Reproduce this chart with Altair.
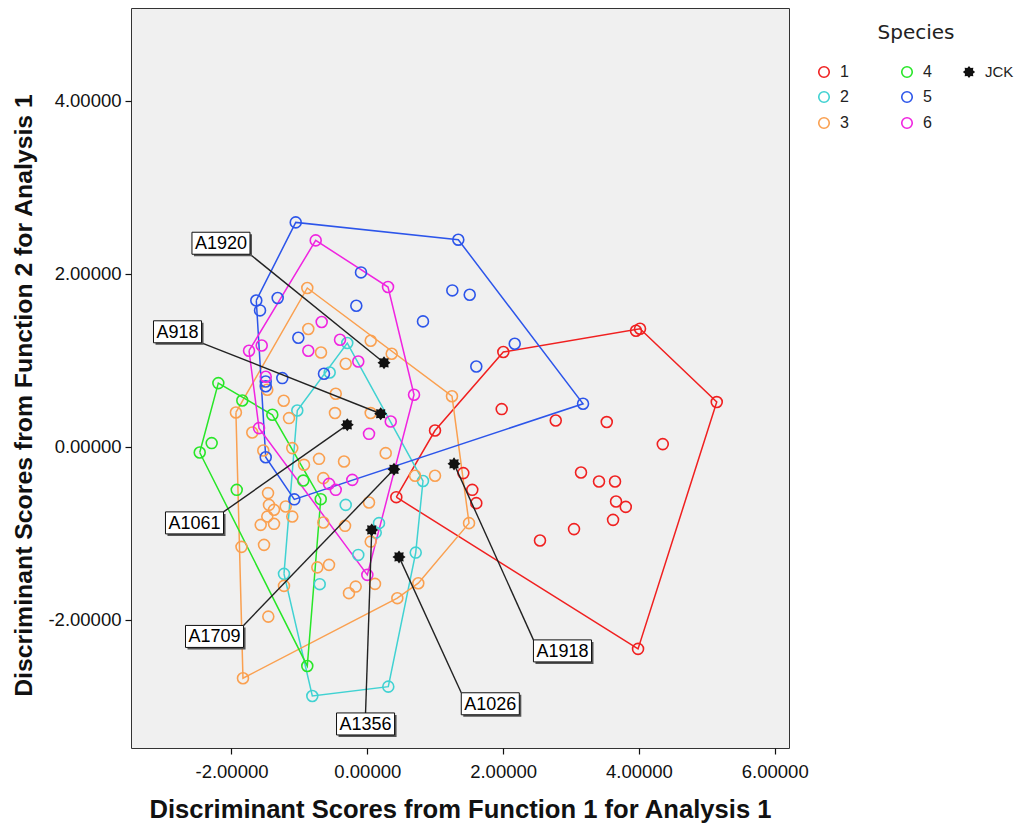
import altair as alt
import pandas as pd
import math

# ---------------- data (discriminant scores: function 1 = x, function 2 = y) -------------
s1_x = [3.957, 4.016, 5.146, 1.979, 2.775, 0.997, 3.526, 4.351, 3.147, 3.412, 3.648, 3.663,
        3.806, 3.619, 3.044, 2.543, 1.414, 1.546, 1.605, 0.427, 3.987, 2.003]
s1_y = [1.341, 1.364, 0.517, 0.436, 0.304, 0.188, 0.286, 0.031, -0.297, -0.401, -0.401, -0.632,
        -0.694, -0.844, -0.951, -1.083, -0.304, -0.497, -0.651, -0.582, -2.335, 1.095]

s2_x = [-0.295, -0.554, -1.031, 0.820, -0.318, -0.133, 0.172, 0.124, 0.713, -1.227, -0.701,
        -0.810, 0.309]
s2_y = [1.199, 0.859, 0.420, -0.395, -0.671, -1.249, -0.882, -0.991, -1.222, -1.468, -1.587,
        -2.879, -2.771]

s3_x = [-0.884, -0.869, -0.682, -0.318, 0.050, 0.359, -0.465, -1.231, -1.473, -1.935, -1.153,
        -0.476, 0.050, -1.694, -1.105, -1.532, -0.711, -0.932, -0.343, 0.271, -0.648, -1.462,
        -1.448, -1.374, -1.202, -1.473, -1.105, -1.570, -1.374, -0.648, -1.853, -1.521, 0.025,
        -0.328, -0.736, -0.564, -1.227, -0.270, -0.171, -1.458, -1.831, 0.113, 0.442, 0.751,
        1.247, 0.703, 0.997, 1.498, 0.050]
s3_y = [1.835, 1.361, 1.090, 0.960, 1.225, 1.075, 0.613, 0.532, 0.659, 0.397, 0.332,
        0.390, 0.390, 0.165, -0.015, -0.043, -0.139, -0.208, -0.170, -0.073, -0.362, -0.535,
        -0.671, -0.728, -0.690, -0.806, -0.806, -0.902, -0.890, -0.875, -1.156, -1.133, -0.644,
        -0.913, -1.393, -1.364, -1.607, -1.691, -1.615, -1.962, -2.674, -1.584, -1.749, -1.576,
        0.584, -0.335, -0.335, -0.882, -1.095]

s4_x = [-2.194, -1.841, -1.399, -2.292, -2.468, -1.923, -0.943, -0.686, -0.884]
s4_y = [0.736, 0.535, 0.370, 0.043, -0.066, -0.497, -0.390, -0.605, -2.532]

s5_x = [-1.054, 1.340, -0.093, 1.252, 1.508, -1.635, -1.580, -1.320, -0.162, 0.820, -1.016,
        -0.638, -1.252, -1.496, -1.496, 2.171, 1.605, 3.177, -1.496, -1.075]
s5_y = [2.593, 2.393, 2.015, 1.807, 1.757, 1.691, 1.576, 1.719, 1.630, 1.449, 1.260,
        0.844, 0.794, 0.755, 0.699, 1.191, 0.928, 0.497, -0.121, -0.607]

s6_x = [-0.760, 0.305, -0.672, -1.555, -1.742, -0.869, -0.402, -0.133, -1.496, 0.345, 0.025,
        0.688, -1.595, -0.564, -0.465, -0.221, 0.000]
s6_y = [2.385, 1.846, 1.442, 1.171, 1.110, 1.110, 1.237, 0.986, 0.809, 0.292, 0.150,
        0.601, 0.216, -0.428, -0.497, -0.382, -1.480]

jck_id = ["A1920", "A918", "A1061", "A1709", "A1918", "A1356", "A1026"]
jck_x = [0.246, 0.197, -0.295, 0.393, 1.277, 0.065, 0.467]
jck_y = [0.971, 0.382, 0.254, -0.260, -0.197, -0.960, -1.272]
lab_x = [-2.155, -2.795, -2.545, -2.250, 2.874, -0.026, 1.811]
lab_y = [2.352, 1.329, -0.879, -2.191, -2.358, -3.202, -2.969]

species = ["1", "2", "3", "4", "5", "6"]
colors = ["#F02020", "#40D2D2", "#FAA050", "#28E628", "#2C55EA", "#F024E0"]
x_ticks = [-2, 0, 2, 4, 6]
y_ticks = [-2, 0, 2, 4]

# ---------------- layout constants -------------
W, H = 658, 740
XD = [-3.48, 6.21]
YD = [-3.48, 5.07]
FONT = "Liberation Sans"
LBL_FS = 18
px_x = W / (XD[1] - XD[0])
px_y = H / (YD[1] - YD[0])
BOX_HH = 11 / px_y
EM = {"A": 0.667}

xs = [s1_x, s2_x, s3_x, s4_x, s5_x, s6_x]
ys = [s1_y, s2_y, s3_y, s4_y, s5_y, s6_y]

pts = pd.DataFrame([{"sp": sp, "x": x, "y": y}
                    for sp, X_, Y_ in zip(species, xs, ys) for x, y in zip(X_, Y_)])


def hull(p):
    p = sorted(set(p))

    def cross(o, a, b):
        return (a[0] - o[0]) * (b[1] - o[1]) - (a[1] - o[1]) * (b[0] - o[0])
    lo, up = [], []
    for q in p:
        while len(lo) >= 2 and cross(lo[-2], lo[-1], q) <= 0:
            lo.pop()
        lo.append(q)
    for q in reversed(p):
        while len(up) >= 2 and cross(up[-2], up[-1], q) <= 0:
            up.pop()
        up.append(q)
    return lo[:-1] + up[:-1]


hrows = []
for sp, X_, Y_ in zip(species, xs, ys):
    h = hull(list(zip(X_, Y_)))
    h = h + [h[0]]
    for i, (a, b) in enumerate(h):
        hrows.append({"sp": sp, "o": i, "x": a, "y": b})
hulls = pd.DataFrame(hrows)

lrows = []
for nm, px, py, lx, ly in zip(jck_id, jck_x, jck_y, lab_x, lab_y):
    em = sum(EM.get(c, 0.556) for c in nm)
    hw = (em * LBL_FS + 6) / 2 / px_x
    best = None
    for dx in (-1, 0, 1):
        for dy in (-1, 0, 1):
            if dx == 0 and dy == 0:
                continue
            ax, ay = lx + dx * hw, ly + dy * BOX_HH
            d = ((ax - px) * px_x) ** 2 + ((ay - py) * px_y) ** 2
            if best is None or d < best[0]:
                best = (d, ax, ay)
    lrows.append({"id": nm, "px": px, "py": py, "lx": lx, "ly": ly,
                  "ax": best[1], "ay": best[2],
                  "x1": lx - hw, "x2": lx + hw,
                  "y1": ly - BOX_HH, "y2": ly + BOX_HH})
labs = pd.DataFrame(lrows)

xs_ = alt.Scale(domain=XD, nice=False, zero=False)
ys_ = alt.Scale(domain=YD, nice=False, zero=False)
cs_ = alt.Scale(domain=species, range=colors)

LBL_EXPR = "replace(format(datum.value, '.5f'), '\u2212', '-')"
X = alt.X("x:Q", scale=xs_, axis=alt.Axis(values=x_ticks, labelExpr=LBL_EXPR,
                                          title="Discriminant Scores from Function 1 for Analysis 1"))
Y = alt.Y("y:Q", scale=ys_, axis=alt.Axis(values=y_ticks, labelExpr=LBL_EXPR, titleY=387,
                                          title="Discriminant Scores from Function 2 for Analysis 1"))

star = []
for i in range(16):
    r = 1.0 if i % 2 == 0 else 0.7
    a = math.pi * i / 8
    star.append(f"{r*math.cos(a):.3f},{r*math.sin(a):.3f}")
STAR = "M" + "L".join(star) + "Z"

hull_layer = alt.Chart(hulls).mark_line(strokeWidth=1.5).encode(
    x=X, y=Y, color=alt.Color("sp:N", scale=cs_, legend=None),
    detail="sp:N", order="o:Q")

pt_layer = alt.Chart(pts).mark_point(filled=False, size=120, strokeWidth=1.6, opacity=1).encode(
    x=X, y=Y, color=alt.Color("sp:N", scale=cs_, legend=None))

lead = alt.Chart(labs).mark_rule(color="#222", strokeWidth=1.4).encode(
    x=alt.X("px:Q", scale=xs_), y=alt.Y("py:Q", scale=ys_), x2="ax:Q", y2="ay:Q")

jck = alt.Chart(labs).mark_point(shape=STAR, filled=True, color="#111", size=170, opacity=1).encode(
    x=alt.X("px:Q", scale=xs_), y=alt.Y("py:Q", scale=ys_))

shadow = alt.Chart(labs).mark_rect(fill="#555", xOffset=2, x2Offset=2, yOffset=2, y2Offset=2).encode(
    x=alt.X("x1:Q", scale=xs_), x2="x2:Q", y=alt.Y("y1:Q", scale=ys_), y2="y2:Q")
box = alt.Chart(labs).mark_rect(fill="white", stroke="#111", strokeWidth=1).encode(
    x=alt.X("x1:Q", scale=xs_), x2="x2:Q", y=alt.Y("y1:Q", scale=ys_), y2="y2:Q")
txt = alt.Chart(labs).mark_text(font=FONT, fontSize=LBL_FS, color="black", baseline="middle", dy=1).encode(
    x=alt.X("lx:Q", scale=xs_), y=alt.Y("ly:Q", scale=ys_), text="id:N")

# ---------------- manual legend (outside plot, right side) -------------
one = alt.Data(values=[{"a": 1}])
leg_layers = [alt.Chart(one).mark_text(text="Species", font="DejaVu Sans", fontSize=20, color="#222",
                                       align="center", baseline="middle").encode(
    x=alt.value(785), y=alt.value(25))]
col_x = [693, 776]
row_y = [64, 89, 115]
for i, sp in enumerate(species):
    cx = col_x[i // 3]
    cy = row_y[i % 3]
    leg_layers.append(alt.Chart(one).mark_point(filled=False, size=110, strokeWidth=1.6,
                                                color=colors[i], opacity=1).encode(
        x=alt.value(cx), y=alt.value(cy)))
    leg_layers.append(alt.Chart(one).mark_text(text=sp, font=FONT, fontSize=16, color="#222",
                                               align="left", baseline="middle").encode(
        x=alt.value(cx + 16), y=alt.value(cy)))
leg_layers.append(alt.Chart(one).mark_point(shape=STAR, filled=True, color="#111", size=150,
                                            opacity=1).encode(x=alt.value(838), y=alt.value(64)))
leg_layers.append(alt.Chart(one).mark_text(text="JCK", font=FONT, fontSize=15, color="#222",
                                           align="left", baseline="middle").encode(
    x=alt.value(854), y=alt.value(64)))

chart = alt.layer(hull_layer, pt_layer, lead, jck, shadow, box, txt, *leg_layers).properties(
    width=W, height=H, padding={"left": 3, "top": 0, "right": 0, "bottom": 0}
).configure_view(
    fill="#F0F0F0", stroke="#333", strokeWidth=1
).configure_axis(
    grid=False, domain=False, tickColor="#111", tickSize=6, tickWidth=1.2,
    labelFont=FONT, labelFontSize=18.5, labelColor="#111",
    titleFont=FONT, titleFontWeight="bold", titleColor="#111"
).configure_axisX(
    labelPadding=8, titlePadding=17, titleFontSize=25.6
).configure_axisY(
    labelPadding=4, titlePadding=11, titleFontSize=24.8
)

chart.save("out.html", embed_options={"renderer": "svg", "actions": False})
